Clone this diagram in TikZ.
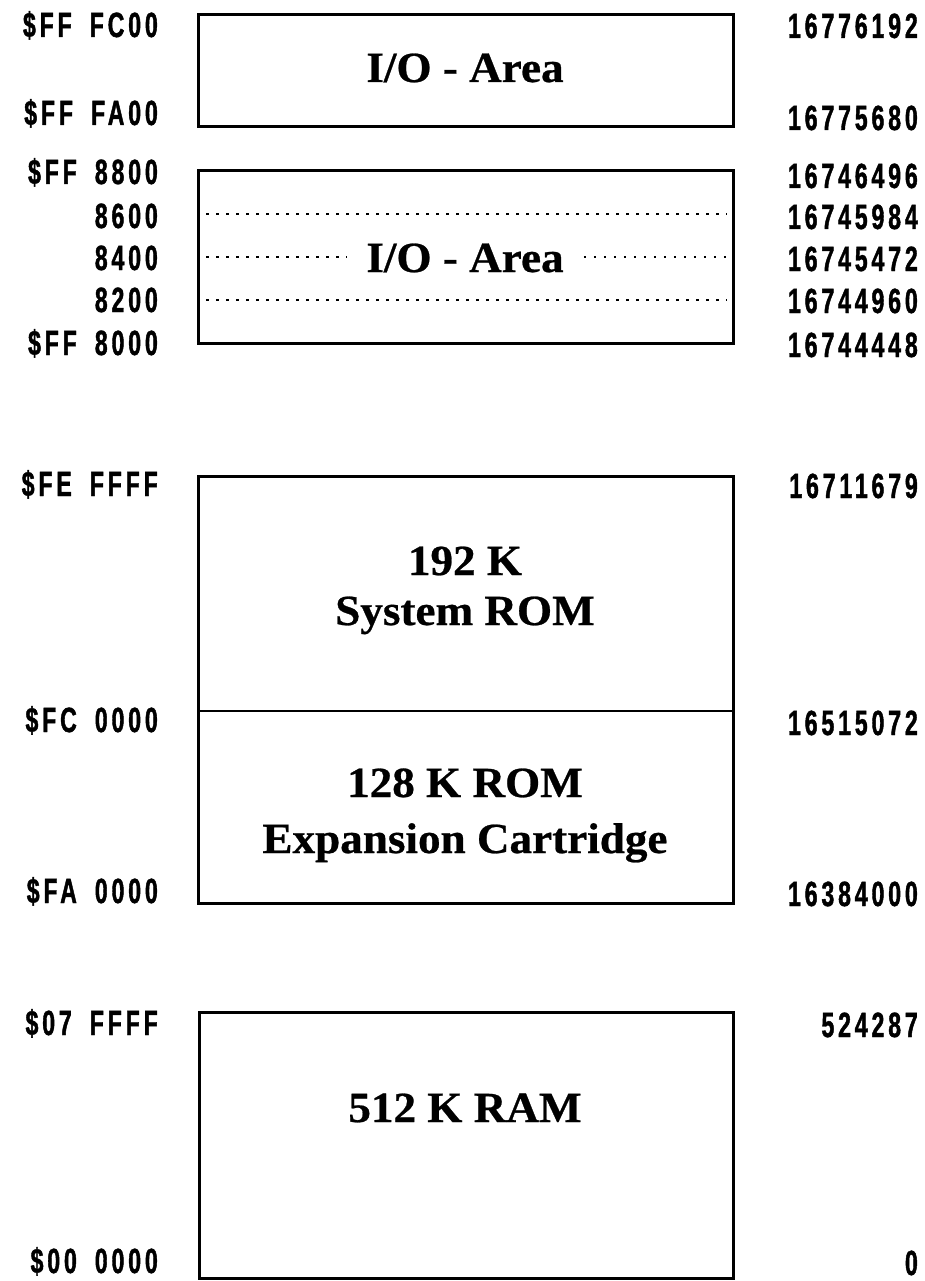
\documentclass[tikz,border=0pt]{standalone}
\usepackage{fontspec}
\setmainfont{Liberation Serif}
\newfontfamily\addrfont[FakeStretch=0.66,LetterSpace=11,FakeBold=1.2]{Liberation Sans}
\newfontfamily\boxfont[FakeStretch=1.05,FakeBold=0.6]{Liberation Serif}
\newcommand\agap{\hspace{18pt}}
\begin{document}
\begin{tikzpicture}[x=1pt,y=-1pt,
  mem/.style={draw=black,line width=3pt},
  divline/.style={draw=black,line width=2.2pt},
  dots/.style={draw=black,line width=2.5pt,dash pattern=on 2.5pt off 7.5pt},
  laddr/.style={anchor=base east,inner sep=0pt,font=\addrfont\bfseries\fontsize{35}{35}\selectfont},
  raddr/.style={anchor=base east,inner sep=0pt,font=\addrfont\bfseries\fontsize{35}{35}\selectfont},
  boxtext/.style={anchor=base,inner sep=0pt,font=\boxfont\bfseries\fontsize{43}{43}\selectfont}
]
\useasboundingbox (0,0) rectangle (925,1281);

% boxes
\draw[mem] (198,15) rectangle (733,127);
\draw[mem] (198,171) rectangle (733,343);
\draw[mem] (198,476) rectangle (733,903);
\draw[divline] (198,711) -- (733,711);
\draw[mem] (199,1012) rectangle (733,1278);

% dotted lines in second I/O area
\draw[dots] (206,214) -- (727,214);
\draw[dots] (206,300) -- (727,300);

% box texts
\node[boxtext] (io1) at (465,82) {I/O - Area};
\node[boxtext,inner xsep=20pt] (io2) at (465,272) {I/O - Area};
\draw[dots] (206,257) -- (io2.west |- 206,257);
\draw[dots] (io2.east |- 727,257) -- (727,257);
\node[boxtext] (rom1) at (465,575) {192 K};
\node[boxtext] (rom2) at (465,625) {System ROM};
\node[boxtext] (cart1) at (465,797) {128 K ROM};
\node[boxtext] (cart2) at (465,853) {Expansion Cartridge};
\node[boxtext] (ram) at (465,1122) {512 K RAM};

% left addresses
\node[laddr] (l1) at (158,37) {\$FF\agap FC00};
\node[laddr] (l2) at (158,125) {\$FF\agap FA00};
\node[laddr] (l3) at (158,184) {\$FF\agap 8800};
\node[laddr] (l4) at (158,228) {8600};
\node[laddr] (l5) at (158,270) {8400};
\node[laddr] (l6) at (158,312) {8200};
\node[laddr] (l7) at (158,355) {\$FF\agap 8000};
\node[laddr] (l8) at (158,496) {\$FE\agap FFFF};
\node[laddr] (l9) at (158,732) {\$FC\agap 0000};
\node[laddr] (l10) at (158,903) {\$FA\agap 0000};
\node[laddr] (l11) at (158,1035) {\$07\agap FFFF};
\node[laddr] (l12) at (158,1273) {\$00\agap 0000};

% right decimal values
\node[raddr] (r1) at (918,38) {16776192};
\node[raddr] (r2) at (918,130) {16775680};
\node[raddr] (r3) at (918,188) {16746496};
\node[raddr] (r4) at (918,229) {16745984};
\node[raddr] (r5) at (918,271) {16745472};
\node[raddr] (r6) at (918,313) {16744960};
\node[raddr] (r7) at (918,357) {16744448};
\node[raddr] (r8) at (918,498) {16711679};
\node[raddr] (r9) at (918,735) {16515072};
\node[raddr] (r10) at (918,906) {16384000};
\node[raddr] (r11) at (918,1037) {524287};
\node[raddr] (r12) at (918,1275) {0};
\end{tikzpicture}
\end{document}
